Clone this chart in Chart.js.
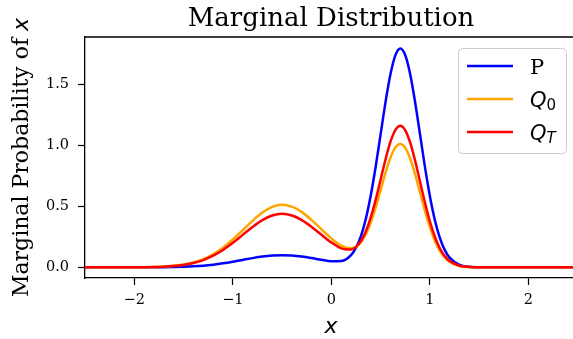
<!DOCTYPE html>
<html>
<head>
<meta charset="utf-8">
<script src="https://cdn.jsdelivr.net/npm/chart.js@4"></script>
<style>
  html, body { margin: 0; padding: 0; background: #fff; }
  #wrap { width: 573px; height: 339px; }
</style>
</head>
<body>
<div id="wrap"><canvas id="myChart" width="573" height="339"></canvas></div>
<script>
var xs = [-2.5, -2.4, -2.3, -2.2, -2.1, -2.0, -1.9, -1.8, -1.7, -1.6, -1.5, -1.4, -1.3, -1.2, -1.1,
  -1.0, -0.9, -0.8, -0.7, -0.6, -0.5, -0.4, -0.3, -0.2, -0.1, 0.0, 0.1, 0.2,
  0.25, 0.3, 0.35, 0.4, 0.45, 0.5, 0.55, 0.6, 0.65, 0.7, 0.75, 0.8, 0.85, 0.9, 0.95, 1.0, 1.05, 1.1, 1.15,
  1.2, 1.3, 1.4, 1.5, 1.6, 1.7, 1.8, 1.9, 2.0, 2.1, 2.2, 2.3, 2.4, 2.5];

var pVals = [0, 0, 0, 0, 0, 0.0001, 0.0002, 0.0005, 0.0011, 0.0023, 0.0044, 0.0079, 0.0135, 0.0216, 0.0324,
  0.0456, 0.0605, 0.0753, 0.0880, 0.0966, 0.0997, 0.0966, 0.0880, 0.0754, 0.0611, 0.0496, 0.0524, 0.1004,
  0.1601, 0.2565, 0.3988, 0.5909, 0.8279, 1.0934, 1.3584, 1.5868, 1.7418, 1.7966, 1.7410, 1.5850, 1.3555, 1.0892, 0.8221, 0.5831, 0.3884, 0.2430, 0.1429,
  0.0788, 0.0200, 0.0040, 0.0006, 0.0001, 0, 0, 0, 0, 0, 0, 0, 0, 0];

var q0Vals = [0, 0, 0, 0.0001, 0.0002, 0.0005, 0.0011, 0.0026, 0.0057, 0.0117, 0.0220, 0.0395, 0.0670, 0.1070, 0.1610,
  0.2280, 0.3040, 0.3810, 0.4490, 0.4960, 0.5135, 0.4976, 0.4531, 0.3876, 0.3118, 0.2372, 0.1779, 0.1553,
  0.1687, 0.2059, 0.2716, 0.3680, 0.4918, 0.6337, 0.7768, 0.9008, 0.9847, 1.0132, 0.9804, 0.8917, 0.7622, 0.6122, 0.4619, 0.3276, 0.2182, 0.1366, 0.0803,
  0.0442, 0.0112, 0.0022, 0.0004, 0.0001, 0, 0, 0, 0, 0, 0, 0, 0, 0];

var qtVals = [0, 0, 0, 0.0001, 0.0001, 0.0004, 0.0010, 0.0022, 0.0049, 0.0100, 0.0193, 0.0349, 0.0594, 0.0949, 0.1424,
  0.2008, 0.2661, 0.3311, 0.3872, 0.4252, 0.4387, 0.4252, 0.3872, 0.3312, 0.2665, 0.2034, 0.1553, 0.1457,
  0.1677, 0.2160, 0.2962, 0.4106, 0.5558, 0.7211, 0.8874, 1.0311, 1.1285, 1.1620, 1.1248, 1.0233, 0.8749, 0.7028, 0.5303, 0.3761, 0.2506, 0.1567, 0.0921,
  0.0508, 0.0129, 0.0026, 0.0004, 0.0001, 0, 0, 0, 0, 0, 0, 0, 0, 0];

var names = ['P', 'Q', 'Q'];
var subs = ['', '0', 'T'];
var colors = ['#0000ff', '#ffa500', '#ff0000'];
var xTicks = [-2, -1, 0, 1, 2];
var yTicks = [0, 0.5, 1.0, 1.5];

var SERIF = '"DejaVu Serif", serif';
var SANS = '"DejaVu Sans", sans-serif';

function pts(vals) {
  return xs.map(function (x, i) { return { x: x, y: vals[i] }; });
}

function fmtNum(v, d) {
  var s = v.toFixed(d);
  return s.replace('-', '\u2212');
}

// texts drawn by hand: title, axis labels, top spine, legend
var extras = {
  id: 'extras',
  afterDraw: function (chart) {
    var ctx = chart.ctx;
    var a = chart.chartArea;
    var cx = (a.left + a.right + 4) / 2;
    ctx.save();

    // top spine
    ctx.strokeStyle = '#000';
    ctx.lineWidth = 1.3;
    ctx.beginPath();
    ctx.moveTo(a.left - 0.6, a.top);
    ctx.lineTo(a.right, a.top);
    ctx.stroke();

    // title
    ctx.fillStyle = '#000';
    ctx.textAlign = 'center';
    ctx.textBaseline = 'alphabetic';
    ctx.font = '26px ' + SERIF;
    ctx.fillText('Marginal Distribution', cx, 26);

    // x label
    ctx.font = 'italic 22px ' + SANS;
    ctx.fillText('x', cx, 333);

    // y label
    ctx.save();
    ctx.translate(28, (a.top + a.bottom) / 2);
    ctx.rotate(-Math.PI / 2);
    ctx.font = '22px ' + SERIF;
    var t1 = 'Marginal Probability of ';
    var w1 = ctx.measureText(t1).width;
    ctx.font = 'italic 22px ' + SANS;
    var w2 = ctx.measureText('x').width;
    var start = -(w1 + w2) / 2;
    ctx.textAlign = 'left';
    ctx.font = '22px ' + SERIF;
    ctx.fillText(t1, start, 0);
    ctx.font = 'italic 22px ' + SANS;
    ctx.fillText('x', start + w1, 0);
    ctx.restore();

    // legend
    var bx = 458.5, by = 48.5, bw = 108, bh = 105;
    ctx.beginPath();
    ctx.roundRect(bx, by, bw, bh, 4);
    ctx.fillStyle = 'rgba(255,255,255,0.8)';
    ctx.fill();
    ctx.strokeStyle = '#cccccc';
    ctx.lineWidth = 1;
    ctx.stroke();

    for (var i = 0; i < names.length; i++) {
      var ly = 66 + i * 33;
      ctx.strokeStyle = colors[i];
      ctx.lineWidth = 2.5;
      ctx.beginPath();
      ctx.moveTo(467, ly);
      ctx.lineTo(513, ly);
      ctx.stroke();
      ctx.fillStyle = '#000';
      ctx.textAlign = 'left';
      ctx.textBaseline = 'alphabetic';
      if (subs[i] === '') {
        ctx.font = '21px ' + SERIF;
        ctx.fillText(names[i], 530, ly + 8);
      } else {
        ctx.font = 'italic 21px ' + SANS;
        ctx.fillText(names[i], 530, ly + 8);
        var qw = ctx.measureText(names[i]).width;
        ctx.font = (subs[i] === 'T' ? 'italic ' : '') + '15px ' + SANS;
        ctx.fillText(subs[i], 530 + qw, ly + 11);
      }
    }
    ctx.restore();
  }
};

var ctx = document.getElementById('myChart').getContext('2d');
var chart = new Chart(ctx, {
  type: 'line',
  data: {
    datasets: [
      { label: 'P', data: pts(pVals), borderColor: colors[0], order: 2 },
      { label: 'Q_0', data: pts(q0Vals), borderColor: colors[1], order: 1 },
      { label: 'Q_T', data: pts(qtVals), borderColor: colors[2], order: 0 }
    ]
  },
  options: {
    responsive: false,
    animation: false,
    devicePixelRatio: 1,
    layout: { padding: { top: 37, left: 0, right: 0, bottom: 0 } },
    elements: {
      line: { borderWidth: 2.5, cubicInterpolationMode: 'monotone', fill: false },
      point: { radius: 0 }
    },
    plugins: {
      legend: { display: false },
      title: { display: false },
      tooltip: { enabled: false }
    },
    scales: {
      x: {
        type: 'linear',
        min: -2.5,
        max: 2.452,
        afterBuildTicks: function (s) { s.ticks = xTicks.map(function (v) { return { value: v }; }); },
        afterFit: function (s) { s.height = 61; },
        ticks: {
          color: '#000',
          font: { family: SERIF, size: 14.5 },
          padding: 7,
          maxRotation: 0,
          callback: function (v) { return fmtNum(v, 0); }
        },
        grid: { drawOnChartArea: false, drawTicks: true, tickLength: 7, color: '#000', tickWidth: 1.2 },
        border: { display: true, color: '#000', width: 1.3 }
      },
      y: {
        min: -0.088,
        max: 1.891,
        afterBuildTicks: function (s) { s.ticks = yTicks.map(function (v) { return { value: v }; }); },
        afterFit: function (s) { s.width = 85; },
        ticks: {
          color: '#000',
          font: { family: SERIF, size: 14.5 },
          padding: 9,
          callback: function (v) { return fmtNum(v, 1); }
        },
        grid: { drawOnChartArea: false, drawTicks: true, tickLength: 7, color: '#000', tickWidth: 1.2 },
        border: { display: true, color: '#000', width: 1.3 }
      }
    }
  },
  plugins: [extras]
});
</script>
</body>
</html>
